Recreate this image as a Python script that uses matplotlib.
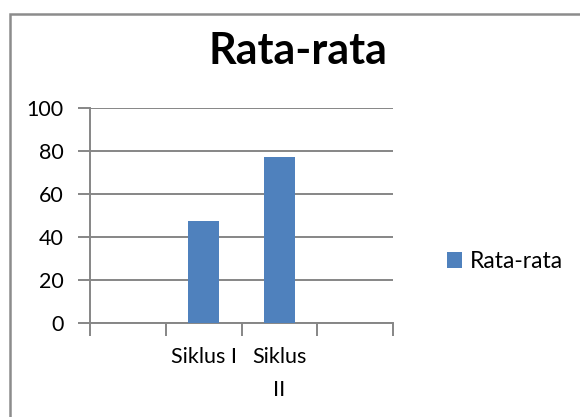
import matplotlib.pyplot as plt
from matplotlib.patches import Rectangle

plt.rcParams['font.family'] = ['Lato', 'DejaVu Sans']

categories = ['', 'Siklus I', 'Siklus\nII', '']
values = [0, 47.5, 77, 0]
series_name = 'Rata-rata'
y_ticks = [0, 20, 40, 60, 80, 100]

fig = plt.figure(figsize=(5.8, 4.17), dpi=100)
ax = fig.add_axes([0.155, 0.2247, 0.523, 0.5173])

# outer chart border (cut off on right/bottom like the source)
fig.patches.append(Rectangle((0.0165, -0.05), 1.1, 1.017, transform=fig.transFigure,
                             fill=False, edgecolor='#8c8c8c', linewidth=1.8))

x = list(range(len(categories)))
draw_x = [i for i, v in zip(x, values) if v > 0]
draw_v = [v for v in values if v > 0]
ax.bar(draw_x, draw_v, width=0.4, color='#4F81BD', label=series_name, zorder=3)

ax.set_xlim(-0.5, len(categories) - 0.5)
ax.set_ylim(0, 100)
ax.set_yticks(y_ticks)
ax.set_yticklabels([str(t) for t in y_ticks], fontsize=15.5)
ax.yaxis.grid(True, color='#868686', linewidth=1.4, zorder=0)

ax.set_xticks([i - 0.5 for i in range(len(categories) + 1)])
ax.set_xticklabels([])
for i, lab in enumerate(categories):
    if lab:
        ax.text(i, -11, lab, ha='center', va='top', fontsize=15.5,
                transform=ax.transData, linespacing=1.8)

for s in ['top', 'right']:
    ax.spines[s].set_visible(False)
for s in ['left', 'bottom']:
    ax.spines[s].set_color('#868686')
    ax.spines[s].set_linewidth(1.4)
ax.tick_params(axis='both', length=9, width=1.4, color='#868686')
ax.tick_params(axis='y', pad=10)

fig.text(0.514, 0.878, 'Rata-rata', ha='center', va='center', fontsize=31, fontweight='bold')

leg = fig.legend(loc='center left', bbox_to_anchor=(0.735, 0.373), frameon=False,
                 fontsize=16.5, handlelength=0.65, handleheight=0.65, handletextpad=0.35)

fig.savefig('out.png', dpi=100)
